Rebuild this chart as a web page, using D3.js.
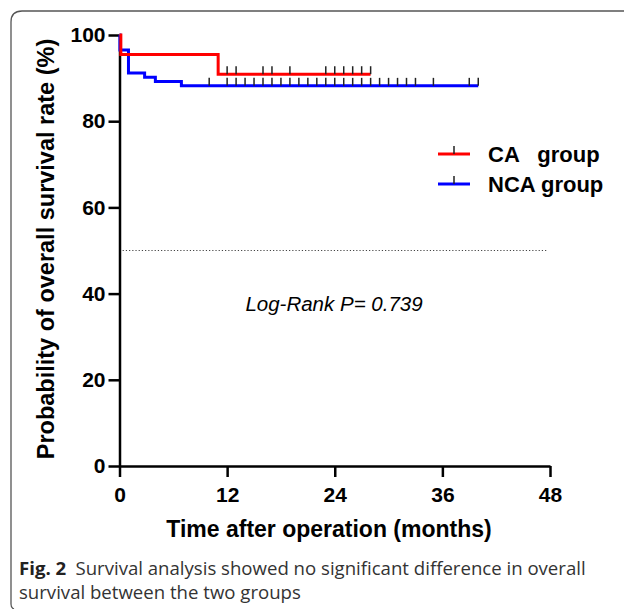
<!DOCTYPE html>
<html lang="en">
<head>
    <meta charset="UTF-8">
    <title>Survival curves</title>
    <script src="https://d3js.org/d3.v7.min.js"></script>
    <style>
        body { margin: 0; background: #fff; }
    </style>
</head>
<body>
    <script>
        // Kaplan-Meier steps (time in months, survival in %)
        var caTimes = [0, 0.15, 11, 28];
        var caSurv = [100, 95.45, 90.9, 90.9];
        var caCensor = [12, 13, 16, 17, 19, 23, 24, 25, 26, 27, 28];

        var ncaTimes = [0, 0.05, 1, 2.8, 4, 6.9, 40];
        var ncaSurv = [100, 96.5, 91.2, 90.2, 89.2, 88.2, 88.2];
        var ncaCensor = [10, 12, 13, 14, 15, 16, 17, 18, 19, 20, 21, 22, 23, 24,
            25, 26, 27, 28, 29, 30, 31, 32, 33, 35, 39, 40];

        var xTicks = [0, 12, 24, 36, 48];
        var yTicks = [0, 20, 40, 60, 80, 100];
        var groups = ["CA   group", "NCA group"];
        var colors = ["#ff0000", "#0000ff"];

        var W = 624, H = 609;
        var svg = d3.select("body").append("svg")
            .attr("width", W)
            .attr("height", H);

        // frame of the figure panel (rounded corner top-left)
        svg.append("path")
            .attr("d", "M 11 604 Q 11 608 14 609 M 11 604 L 11 22 Q 11 11 22 11 L 624 11")
            .attr("fill", "none")
            .attr("stroke", "#555")
            .attr("stroke-width", 1.3);

        var x = d3.scaleLinear().domain([0, 48]).range([119.5, 550]);
        var y = d3.scaleLinear().domain([0, 100]).range([466, 35]);

        var font = "'Liberation Sans', Arial, sans-serif";

        // axes
        var xAxis = svg.append("g")
            .attr("transform", "translate(0," + y(0) + ")")
            .call(d3.axisBottom(x).tickValues(xTicks).tickSize(11).tickPadding(10).tickSizeOuter(0));
        var yAxis = svg.append("g")
            .attr("transform", "translate(" + x(0) + ",0)")
            .call(d3.axisLeft(y).tickValues(yTicks).tickSize(11).tickPadding(3).tickSizeOuter(0));

        [xAxis, yAxis].forEach(function(a) {
            a.select(".domain").attr("stroke", "#000").attr("stroke-width", 2.5);
            a.selectAll(".tick line").attr("stroke", "#000").attr("stroke-width", 2.5);
            a.selectAll(".tick text")
                .attr("fill", "#000")
                .style("font-family", font)
                .style("font-weight", "bold")
                .style("font-size", "21px");
        });

        // 50% reference line
        svg.append("line")
            .attr("x1", x(0.35)).attr("x2", x(47.7))
            .attr("y1", y(50)).attr("y2", y(50))
            .attr("stroke", "#444")
            .attr("stroke-width", 1)
            .attr("stroke-dasharray", "1.2,2");

        var line = d3.line()
            .x(function(d) { return x(d[0]); })
            .y(function(d) { return y(d[1]); })
            .curve(d3.curveStepAfter);

        var series = [
            { times: ncaTimes, surv: ncaSurv, censor: ncaCensor, color: colors[1] },
            { times: caTimes, surv: caSurv, censor: caCensor, color: colors[0] }
        ];

        function survAt(s, t) {
            var v = s.surv[0];
            for (var i = 0; i < s.times.length; i++) {
                if (s.times[i] <= t) v = s.surv[i];
            }
            return v;
        }

        series.forEach(function(s) {
            var pts = s.times.map(function(t, i) { return [t, s.surv[i]]; });
            svg.append("path")
                .datum(pts)
                .attr("d", line)
                .attr("fill", "none")
                .attr("stroke", s.color)
                .attr("stroke-width", 3);

            svg.selectAll(null)
                .data(s.censor)
                .enter().append("line")
                .attr("x1", function(d) { return x(d); })
                .attr("x2", function(d) { return x(d); })
                .attr("y1", function(d) { return y(survAt(s, d)); })
                .attr("y2", function(d) { return y(survAt(s, d)) - 8; })
                .attr("stroke", "#222")
                .attr("stroke-width", 1.5);
        });

        // legend
        var legend = svg.append("g");
        groups.forEach(function(g, i) {
            var ly = 154 + i * 30;
            legend.append("line")
                .attr("x1", 438).attr("x2", 470)
                .attr("y1", ly).attr("y2", ly)
                .attr("stroke", colors[i]).attr("stroke-width", 3);
            legend.append("line")
                .attr("x1", 454).attr("x2", 454)
                .attr("y1", ly).attr("y2", ly - 8)
                .attr("stroke", "#222").attr("stroke-width", 1.5);
            legend.append("text")
                .attr("x", 488).attr("y", ly + 8)
                .style("font-family", font)
                .style("font-weight", "bold")
                .style("font-size", "22px")
                .style("white-space", "pre")
                .attr("xml:space", "preserve")
                .text(g);
        });

        // annotation
        svg.append("text")
            .attr("x", 334).attr("y", 311)
            .attr("text-anchor", "middle")
            .style("font-family", font)
            .style("font-style", "italic")
            .style("font-size", "20.5px")
            .text("Log-Rank P= 0.739");

        // axis titles
        svg.append("text")
            .attr("x", 329).attr("y", 537)
            .attr("text-anchor", "middle")
            .style("font-family", font)
            .style("font-weight", "bold")
            .style("font-size", "23px")
            .text("Time after operation (months)");

        svg.append("text")
            .attr("transform", "translate(54,249) rotate(-90)")
            .attr("text-anchor", "middle")
            .style("font-family", font)
            .style("font-weight", "bold")
            .style("font-size", "23.5px")
            .text("Probability of overall survival rate (%)");

        // caption
        var cap = svg.append("text")
            .style("font-family", "'Open Sans', 'Noto Sans', sans-serif")
            .style("font-size", "18.6px")
            .attr("fill", "#333");
        var l1 = cap.append("tspan").attr("x", 19).attr("y", 575);
        l1.append("tspan").style("font-weight", "bold").attr("fill", "#222").text("Fig. 2");
        l1.append("tspan").text("\u2002Survival analysis showed no significant difference in overall");
        cap.append("tspan").attr("x", 19).attr("y", 599).text("survival between the two groups");
    </script>
</body>
</html>
